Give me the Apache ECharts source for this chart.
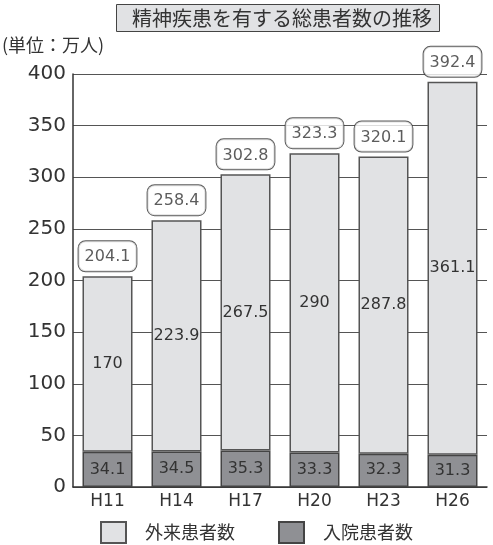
<!DOCTYPE html>
<html>
<head>
<meta charset="utf-8">
<script src="https://cdn.jsdelivr.net/npm/echarts@6/dist/echarts.min.js"></script>
<style>
  html, body { margin: 0; padding: 0; background: #fff; }
  #main { width: 493px; height: 545px; }
</style>
</head>
<body>
<div id="main"></div>
<script>
var years = ['H11', 'H14', 'H17', 'H20', 'H23', 'H26'];
var inpatient = [34.1, 34.5, 35.3, 33.3, 32.3, 31.3];   // 入院患者数
var outpatient = [170, 223.9, 267.5, 290, 287.8, 361.1]; // 外来患者数
var totals = [204.1, 258.4, 302.8, 323.3, 320.1, 392.4];

var FONT = '"Noto Sans CJK JP", "Noto Sans", sans-serif';
var NUM = '"DejaVu Sans ExtraLight", "DejaVu Sans", sans-serif';   // 数字は幅広の細い書体で

var chart = echarts.init(document.getElementById('main'));

var option = {
  backgroundColor: '#fff',
  textStyle: { fontFamily: FONT },
  title: [
    {
      text: '精神疾患を有する総患者数の推移',
      left: 116,
      top: 4,
      padding: [4, 8, 4, 16],
      backgroundColor: '#e1e2e4',
      borderColor: '#444',
      borderWidth: 1,
      textStyle: { fontFamily: FONT, fontSize: 20, fontWeight: 'normal', color: '#333' }
    },
    {
      text: '(単位：万人)',
      left: 2,
      top: 36,
      padding: 0,
      textStyle: { fontFamily: FONT, fontSize: 18, fontWeight: 'normal', color: '#333' }
    }
  ],
  legend: {
    data: ['外来患者数', '入院患者数'],
    left: 100,
    top: 521,
    padding: 0,
    icon: 'rect',
    itemWidth: 25,
    itemHeight: 21,
    itemGap: 43,
    textStyle: { fontFamily: FONT, fontSize: 18, color: '#333', padding: [0, 0, 0, 14] }
  },
  grid: { left: 73, right: 6, top: 74, bottom: 58 },
  xAxis: {
    type: 'category',
    data: years,
    axisTick: { show: false },
    axisLine: { lineStyle: { color: '#333', width: 1.5 } },
    axisLabel: { fontFamily: NUM, fontSize: 17, color: '#333', margin: 6 }
  },
  yAxis: {
    type: 'value',
    min: 0,
    max: 400,
    interval: 50,
    axisLine: { show: true, lineStyle: { color: '#333', width: 1.5 } },
    axisTick: { show: false },
    axisLabel: { fontFamily: NUM, fontSize: 20, color: '#333', margin: 7 },
    splitLine: { lineStyle: { color: '#555', width: 1.2 } }
  },
  series: [
    {
      name: '入院患者数',
      type: 'bar',
      stack: 'total',
      barWidth: 50,
      data: inpatient,
      itemStyle: { color: '#8f9094', borderColor: '#444', borderWidth: 1.5 },
      label: { show: true, position: 'inside', fontFamily: NUM, fontSize: 16, color: '#333' }
    },
    {
      name: '外来患者数',
      type: 'bar',
      stack: 'total',
      barWidth: 50,
      data: outpatient,
      itemStyle: { color: '#e1e2e4', borderColor: '#555', borderWidth: 1.5 },
      label: { show: true, position: 'inside', fontFamily: NUM, fontSize: 16, color: '#333' }
    },
    {
      name: '合計',
      type: 'scatter',
      data: totals,
      symbolSize: 0,
      silent: true,
      label: {
        show: true,
        position: 'top',
        distance: 5,
        fontFamily: NUM,
        fontSize: 16,
        color: '#333',
        backgroundColor: '#fff',
        borderColor: '#333',
        borderWidth: 1,
        borderRadius: 7,
        padding: [8, 6, 6, 6]
      }
    }
  ]
};

chart.setOption(option);
</script>
</body>
</html>
